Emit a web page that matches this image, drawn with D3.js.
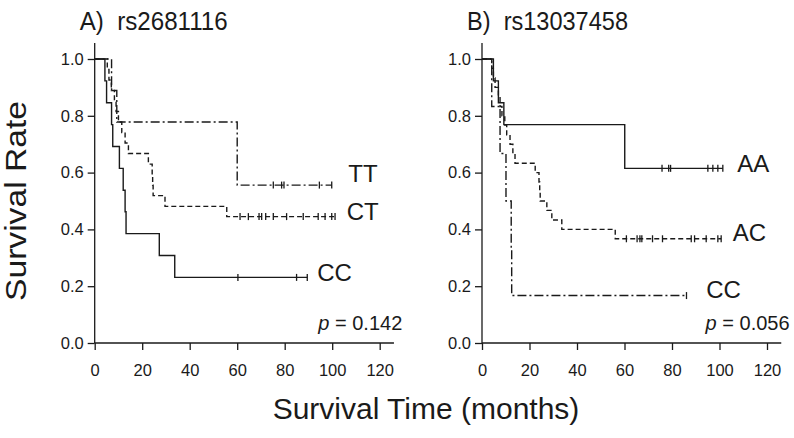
<!DOCTYPE html>
<html>
<head>
<meta charset="utf-8">
<script src="https://cdn.jsdelivr.net/npm/d3@7"></script>
<style>
  body { margin: 0; background: #fff; }
  text { font-family: "Liberation Sans", Arial, sans-serif; fill: #1a1a1a; }
</style>
</head>
<body>
<div id="chart"></div>
<script>
// ---- data ----
// panel A: rs2681116
var ttTimes = [7.1, 9.3, 60];
var ttSurv = [0.889, 0.778, 0.556];
var ttCensor = [75.2, 78.7, 79.7, 94.6, 99.8];

var ctTimes = [5.3, 6, 7, 8.3, 9, 10, 11.4, 12.8, 14.2, 22.6, 24.2, 24.4, 24.6, 29.6, 55.6];
var ctSurv = [0.963, 0.926, 0.889, 0.852, 0.815, 0.778, 0.741, 0.704, 0.667, 0.630, 0.593, 0.556, 0.519, 0.481, 0.445];
var ctCensor = [61.2, 64.7, 69.2, 70.3, 72, 75.2, 80.8, 87.8, 94.1, 97, 99.8, 101.2];

var ccATimes = [4.3, 5.0, 7.1, 7.6, 10.4, 12.0, 12.8, 13.2, 27.2, 33.7];
var ccASurv = [0.923, 0.846, 0.769, 0.692, 0.615, 0.538, 0.462, 0.385, 0.308, 0.231];
var ccACensor = [60.3, 85, 89.5];

// panel B: rs13037458
var aaTimes = [4.8, 6.9, 9.2, 60.1];
var aaSurv = [0.923, 0.846, 0.769, 0.615];
var aaCensor = [75.8, 78.6, 79.4, 95.1, 97.2, 99.3, 101.4];

var acTimes = [4.1, 4.8, 5.5, 6.9, 7.6, 8.4, 9.6, 10.4, 11.8, 13, 13.9, 22.4, 24, 24.3, 24.5, 27.3, 29.4, 33.6, 56.1];
var acSurv = [0.967, 0.933, 0.9, 0.867, 0.833, 0.8, 0.767, 0.733, 0.7, 0.667, 0.633, 0.6, 0.567, 0.533, 0.5, 0.467, 0.433, 0.4, 0.367];
var acCensor = [60.8, 65.3, 66.5, 67.3, 71.8, 76, 88.1, 89.5, 94.4, 99.3, 100.7];

var ccBTimes = [4.1, 7.6, 10.1, 12.3, 12.5];
var ccBSurv = [0.833, 0.667, 0.5, 0.333, 0.167];
var ccBCensor = [86.1];

var xTicks = [0, 20, 40, 60, 80, 100, 120];
var yTicks = [0, 0.2, 0.4, 0.6, 0.8, 1.0];

var panelTitles = ["A)  rs2681116", "B)  rs13037458"];
var pValues = ["0.142", "0.056"];

// ---- layout ----
var svgWidth = 794, svgHeight = 438;
var svg = d3.select("#chart").append("svg")
    .attr("width", svgWidth)
    .attr("height", svgHeight);

var yScale = d3.scaleLinear().domain([0, 1]).range([343, 59]);

var dashStyles = { solid: null, dashed: "5,3", dashdot: "9,3,2,3" };

function stepPoints(times, surv, endT) {
    var pts = [[0, 1]];
    var prev = 1;
    times.forEach(function(t, i) {
        pts.push([t, prev]);
        pts.push([t, surv[i]]);
        prev = surv[i];
    });
    pts.push([endT, prev]);
    return pts;
}

function survAt(times, surv, t) {
    var s = 1;
    times.forEach(function(tt, i) { if (tt <= t) s = surv[i]; });
    return s;
}

function drawPanel(x0, title, titleWidth, pval, curves, labels) {
    var xScale = d3.scaleLinear().domain([0, 120]).range([x0, x0 + 285]);
    var g = svg.append("g");

    // axis lines (extend a bit past last tick like the original)
    g.append("line")
        .attr("x1", xScale(0)).attr("x2", xScale(0))
        .attr("y1", yScale(0)).attr("y2", yScale(1.056))
        .attr("stroke", "#1a1a1a").attr("stroke-width", 1.3);
    g.append("line")
        .attr("x1", xScale(0)).attr("x2", xScale(126))
        .attr("y1", yScale(0)).attr("y2", yScale(0))
        .attr("stroke", "#1a1a1a").attr("stroke-width", 1.3);

    var bottomAxis = d3.axisBottom(xScale).tickValues(xTicks)
        .tickSize(7).tickPadding(14).tickSizeOuter(0);
    var leftAxis = d3.axisLeft(yScale).tickValues(yTicks)
        .tickFormat(d3.format(".1f")).tickSize(7).tickPadding(4).tickSizeOuter(0);

    var xa = g.append("g").attr("transform", "translate(0," + yScale(0) + ")").call(bottomAxis);
    var ya = g.append("g").attr("transform", "translate(" + xScale(0) + ",0)").call(leftAxis);
    [xa, ya].forEach(function(a) {
        a.select(".domain").remove();
        a.selectAll(".tick line").attr("stroke", "#1a1a1a").attr("stroke-width", 1.3);
        a.selectAll(".tick text").attr("font-size", "16.5px").attr("fill", "#1a1a1a")
            .attr("font-family", "'Liberation Sans', Arial, sans-serif");
    });

    // curves
    curves.forEach(function(c) {
        var endT = c.censor.length ? d3.max(c.censor) : d3.max(c.times);
        var pts = stepPoints(c.times, c.surv, endT);
        g.append("path")
            .datum(pts)
            .attr("d", d3.line().x(d => xScale(d[0])).y(d => yScale(d[1])))
            .attr("fill", "none")
            .attr("stroke", "#1a1a1a")
            .attr("stroke-width", 1.4)
            .attr("stroke-dasharray", dashStyles[c.style]);
        g.selectAll(null)
            .data(c.censor)
            .enter()
            .append("line")
            .attr("x1", d => xScale(d)).attr("x2", d => xScale(d))
            .attr("y1", d => yScale(survAt(c.times, c.surv, d)) - 3.5)
            .attr("y2", d => yScale(survAt(c.times, c.surv, d)) + 3.5)
            .attr("stroke", "#1a1a1a").attr("stroke-width", 1.3);
    });

    // group labels
    labels.forEach(function(l) {
        g.append("text")
            .attr("x", xScale(l.x)).attr("y", yScale(l.y))
            .attr("font-size", "24px")
            .text(l.text);
    });

    // title (the original uses a narrower face)
    g.append("text")
        .attr("x", xScale(0) - 15).attr("y", 30)
        .attr("font-size", "26px")
        .attr("textLength", titleWidth)
        .attr("lengthAdjust", "spacingAndGlyphs")
        .style("white-space", "pre")
        .text(title);

    // p value
    var p = g.append("text")
        .attr("x", xScale(129.5)).attr("y", 330)
        .attr("text-anchor", "end")
        .attr("font-size", "20px");
    p.append("tspan").attr("font-style", "italic").text("p");
    p.append("tspan").text(" = " + pval);
}

drawPanel(94.7, panelTitles[0], 148, pValues[0], [
    { times: ttTimes, surv: ttSurv, censor: ttCensor, style: "dashdot" },
    { times: ctTimes, surv: ctSurv, censor: ctCensor, style: "dashed" },
    { times: ccATimes, surv: ccASurv, censor: ccACensor, style: "solid" }
], [
    { text: "TT", x: 106.8, y: 0.568 },
    { text: "CT", x: 106.1, y: 0.433 },
    { text: "CC", x: 93.7, y: 0.219 }
]);

drawPanel(482, panelTitles[1], 161, pValues[1], [
    { times: aaTimes, surv: aaSurv, censor: aaCensor, style: "solid" },
    { times: acTimes, surv: acSurv, censor: acCensor, style: "dashed" },
    { times: ccBTimes, surv: ccBSurv, censor: ccBCensor, style: "dashdot" }
], [
    { text: "AA", x: 107.5, y: 0.603 },
    { text: "AC", x: 105.6, y: 0.359 },
    { text: "CC", x: 94.4, y: 0.159 }
]);

// shared axis titles
svg.append("text")
    .attr("x", 426).attr("y", 419)
    .attr("text-anchor", "middle")
    .attr("font-size", "30px")
    .text("Survival Time (months)");

svg.append("text")
    .attr("transform", "translate(26,201) rotate(-90)")
    .attr("text-anchor", "middle")
    .attr("font-size", "30px")
    .attr("textLength", 200)
    .attr("lengthAdjust", "spacingAndGlyphs")
    .text("Survival Rate");
</script>
</body>
</html>
